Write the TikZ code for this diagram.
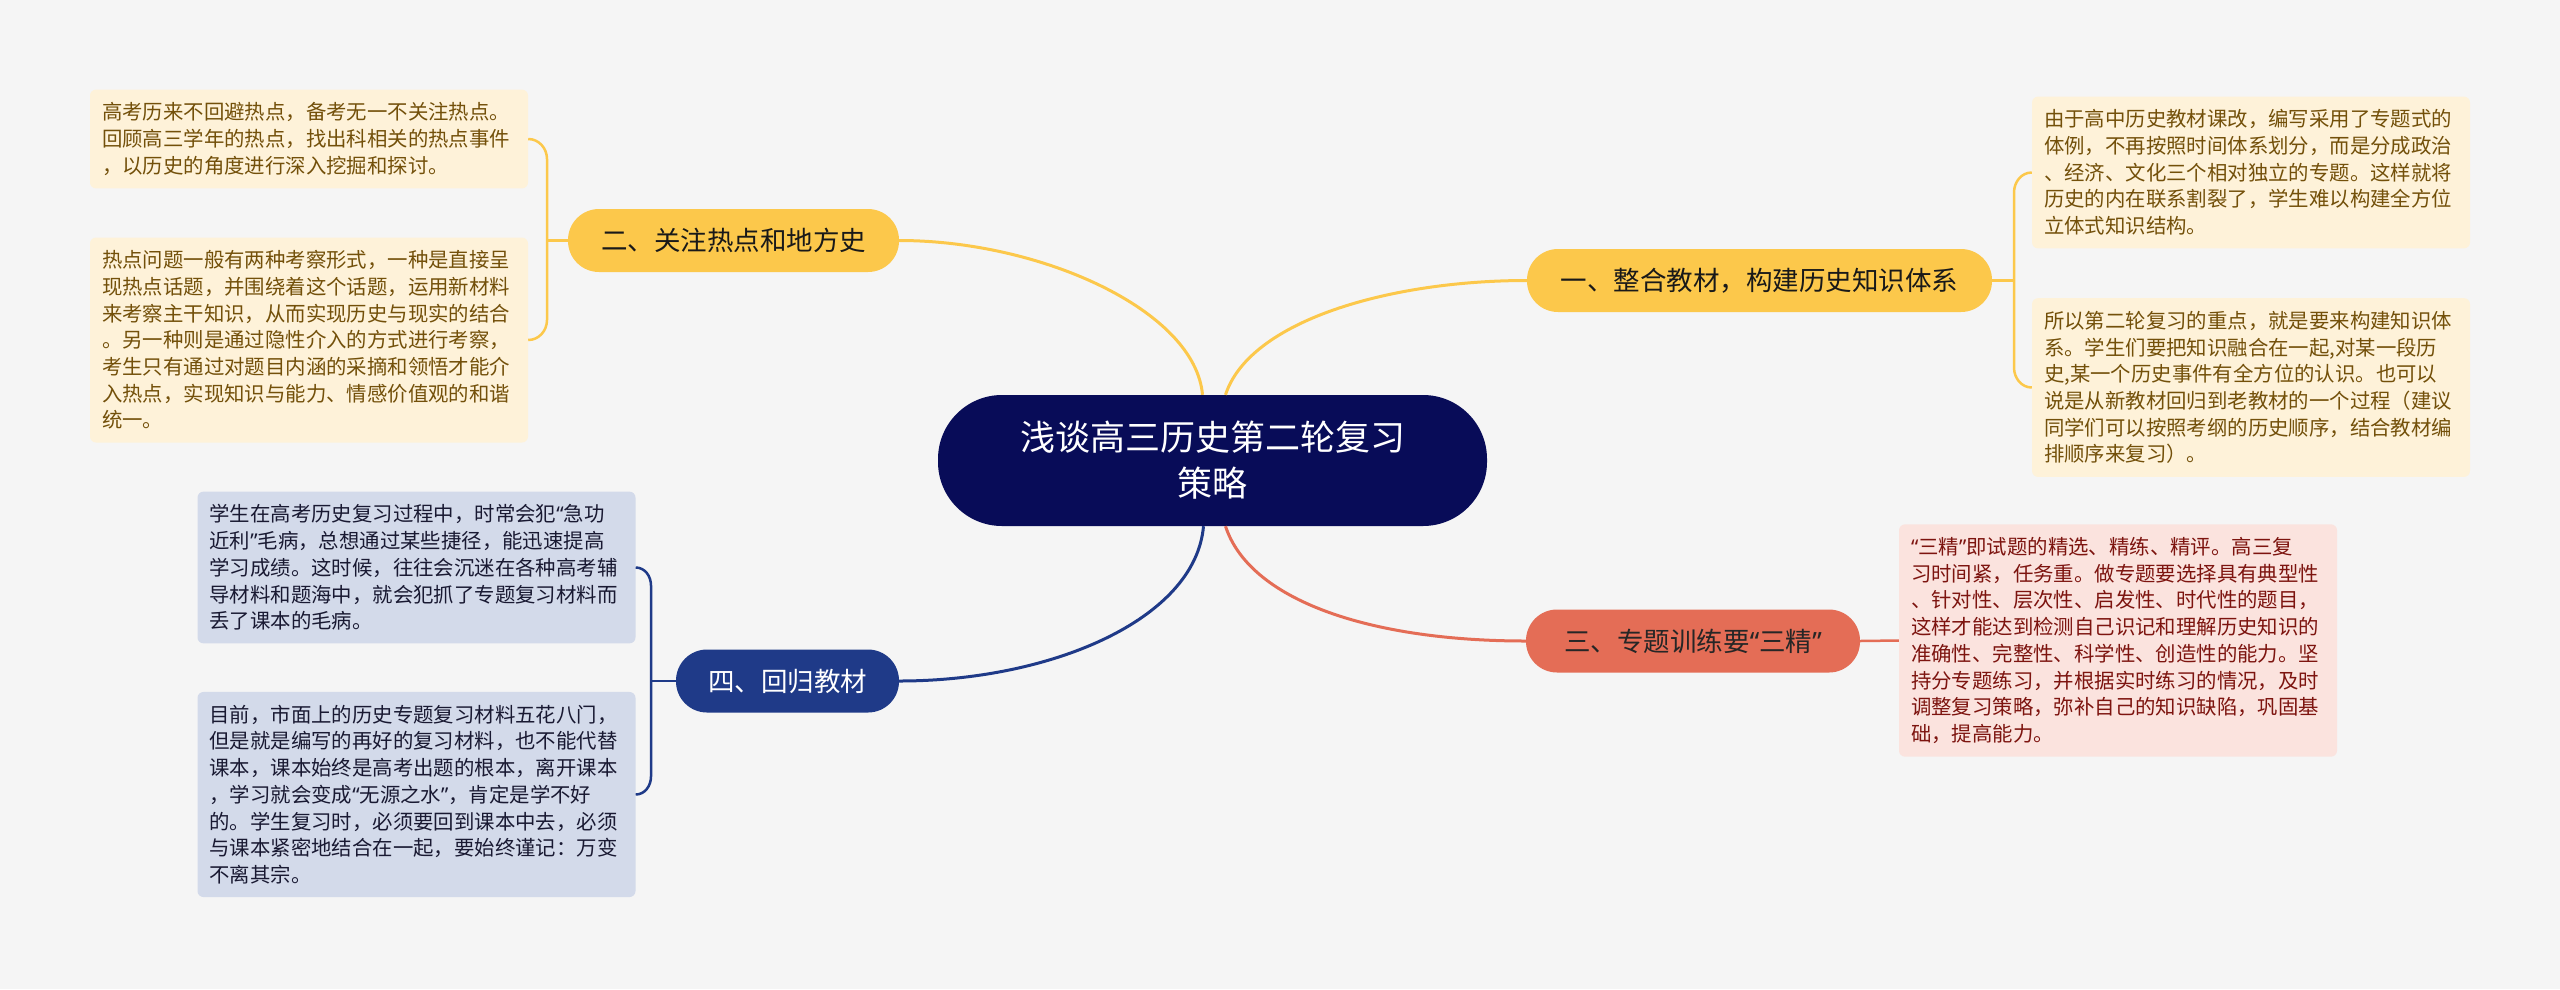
\documentclass[tikz,border=0pt]{standalone}
\usepackage{fontspec}
\setmainfont{Noto Sans CJK SC}
\newfontfamily\quotefont{Noto Sans}
\newcommand{\qopen}{{\quotefont “}}
\newcommand{\qclose}{{\quotefont ”}}
\usetikzlibrary{calc}

\definecolor{bgcol}{HTML}{F5F5F5}
\definecolor{navy}{HTML}{080C58}
\definecolor{ybranch}{HTML}{FCC84B}
\definecolor{yleaf}{HTML}{FEF2D9}
\definecolor{ytext}{HTML}{73500A}
\definecolor{rbranch}{HTML}{E46D56}
\definecolor{rleaf}{HTML}{FBE3DE}
\definecolor{rtext}{HTML}{7D140F}
\definecolor{bbranch}{HTML}{1F3A88}
\definecolor{bleaf}{HTML}{D3DAEA}
\definecolor{btext}{HTML}{191932}

\tikzset{
	root/.style={fill=navy, text=white, rounded corners=64pt, minimum width=549pt,
		minimum height=131pt, align=center, font=\fontsize{35}{46}\selectfont},
	branch/.style={rounded corners=31pt, minimum height=63pt, inner sep=0pt,
		font=\fontsize{26.5}{30}\selectfont},
	leaf/.style={rounded corners=6pt, text width=414pt, inner xsep=12pt, inner ysep=13pt,
		align=left, font=\fontsize{20.4}{26.7}\selectfont},
	yleafbox/.style={leaf, fill=yleaf, text=ytext},
	rleafbox/.style={leaf, fill=rleaf, text=rtext},
	bleafbox/.style={leaf, fill=bleaf, text=btext},
	link/.style={line width=3pt},
	brace/.style={line width=2.5pt}
}

\begin{document}
\begin{tikzpicture}[x=1pt,y=-1pt]
	\useasboundingbox[fill=bgcol] (0,0) rectangle (2560,989);

	% Central topic
	\node[root] (root) at (1212.5,460.5) {浅谈高三历史第二轮复习\\策略};
	\coordinate (rtl) at ($(root.north)+(-10,0)$);
	\coordinate (rtr) at ($(root.north)+(13,0)$);
	\coordinate (rbl) at ($(root.south)+(-9,0)$);
	\coordinate (rbr) at ($(root.south)+(13,0)$);

	% Main branches
	\node[branch, fill=ybranch, text=black!90, minimum width=465pt] (b1) at (1759.5,280.5) {一、整合教材，构建历史知识体系};
	\node[branch, fill=ybranch, text=black!90, minimum width=331pt] (b2) at (733.5,240.5) {二、关注热点和地方史};
	\node[branch, fill=rbranch, text=black!85, minimum width=334pt] (b3) at (1693,641) {三、专题训练要\qopen 三精\qclose};
	\node[branch, fill=bbranch, text=white, minimum width=223pt] (b4) at (787.5,681) {四、回归教材};

	% Links from the root
	\draw[link, ybranch] (rtl) to[out=95, in=0, out distance=85pt, in distance=141pt] (b2.east);
	\draw[link, ybranch] (rtr) to[out=72, in=180, out distance=78pt, in distance=137pt] (b1.west);
	\draw[link, bbranch] (rbl) to[out=-95, in=0, out distance=94pt, in distance=151pt] (b4.east);
	\draw[link, rbranch] (rbr) to[out=-72, in=180, out distance=78pt, in distance=156pt] (b3.west);

	% Branch one: leaves
	\node[yleafbox] (one1) at (2251,172.5) {由于高中历史教材课改，编写采用了专题式的\\体例，不再按照时间体系划分，而是分成政治\\、经济、文化三个相对独立的专题。这样就将\\历史的内在联系割裂了，学生难以构建全方位\\立体式知识结构。};
	\node[yleafbox] (one2) at (2251,387.5) {所以第二轮复习的重点，就是要来构建知识体\\系。学生们要把知识融合在一起,对某一段历\\史,某一个历史事件有全方位的认识。也可以\\说是从新教材回归到老教材的一个过程（建议\\同学们可以按照考纲的历史顺序，结合教材编\\排顺序来复习）。};
	\coordinate (k1) at (2014,280.5);
	\draw[brace, ybranch] (b1.east) -- (k1);
	\draw[brace, ybranch] (one1.west) to[out=180, in=90] ($(k1 |- one1.west)+(0,20)$)
		-- ($(k1 |- one2.west)+(0,-20)$) to[out=-90, in=180] (one2.west);

	% Branch two: leaves
	\node[yleafbox] (two1) at (309,139) {高考历来不回避热点，备考无一不关注热点。\\回顾高三学年的热点，找出科相关的热点事件\\，以历史的角度进行深入挖掘和探讨。};
	\node[yleafbox] (two2) at (309,340) {热点问题一般有两种考察形式，一种是直接呈\\现热点话题，并围绕着这个话题，运用新材料\\来考察主干知识，从而实现历史与现实的结合\\。另一种则是通过隐性介入的方式进行考察，\\考生只有通过对题目内涵的采摘和领悟才能介\\入热点，实现知识与能力、情感价值观的和谐\\统一。};
	\coordinate (k2) at (547,240.5);
	\draw[brace, ybranch] (b2.west) -- (k2);
	\draw[brace, ybranch] (two1.east) to[out=0, in=90] ($(k2 |- two1.east)+(0,20)$)
		-- ($(k2 |- two2.east)+(0,-20)$) to[out=-90, in=0] (two2.east);

	% Branch three: leaf
	\node[rleafbox] (three1) at (2118,640.5) {\qopen 三精\qclose 即试题的精选、精练、精评。高三复\\习时间紧，任务重。做专题要选择具有典型性\\、针对性、层次性、启发性、时代性的题目，\\这样才能达到检测自己识记和理解历史知识的\\准确性、完整性、科学性、创造性的能力。坚\\持分专题练习，并根据实时练习的情况，及时\\调整复习策略，弥补自己的知识缺陷，巩固基\\础，提高能力。};
	\draw[brace, rbranch] (b3.east) -- (three1.west);

	% Branch four: leaves
	\node[bleafbox] (four1) at (416.5,567.5) {学生在高考历史复习过程中，时常会犯\qopen 急功\\近利\qclose 毛病，总想通过某些捷径，能迅速提高\\学习成绩。这时候，往往会沉迷在各种高考辅\\导材料和题海中，就会犯抓了专题复习材料而\\丢了课本的毛病。};
	\node[bleafbox] (four2) at (416.5,794.5) {目前，市面上的历史专题复习材料五花八门，\\但是就是编写的再好的复习材料，也不能代替\\课本，课本始终是高考出题的根本，离开课本\\，学习就会变成\qopen 无源之水\qclose ，肯定是学不好\\的。学生复习时，必须要回到课本中去，必须\\与课本紧密地结合在一起，要始终谨记：万变\\不离其宗。};
	\coordinate (k4) at (651,681);
	\draw[brace, bbranch] (b4.west) -- (k4);
	\draw[brace, bbranch] (four1.east) to[out=0, in=90] ($(k4 |- four1.east)+(0,18)$)
		-- ($(k4 |- four2.east)+(0,-18)$) to[out=-90, in=0] (four2.east);

\end{tikzpicture}
\end{document}
